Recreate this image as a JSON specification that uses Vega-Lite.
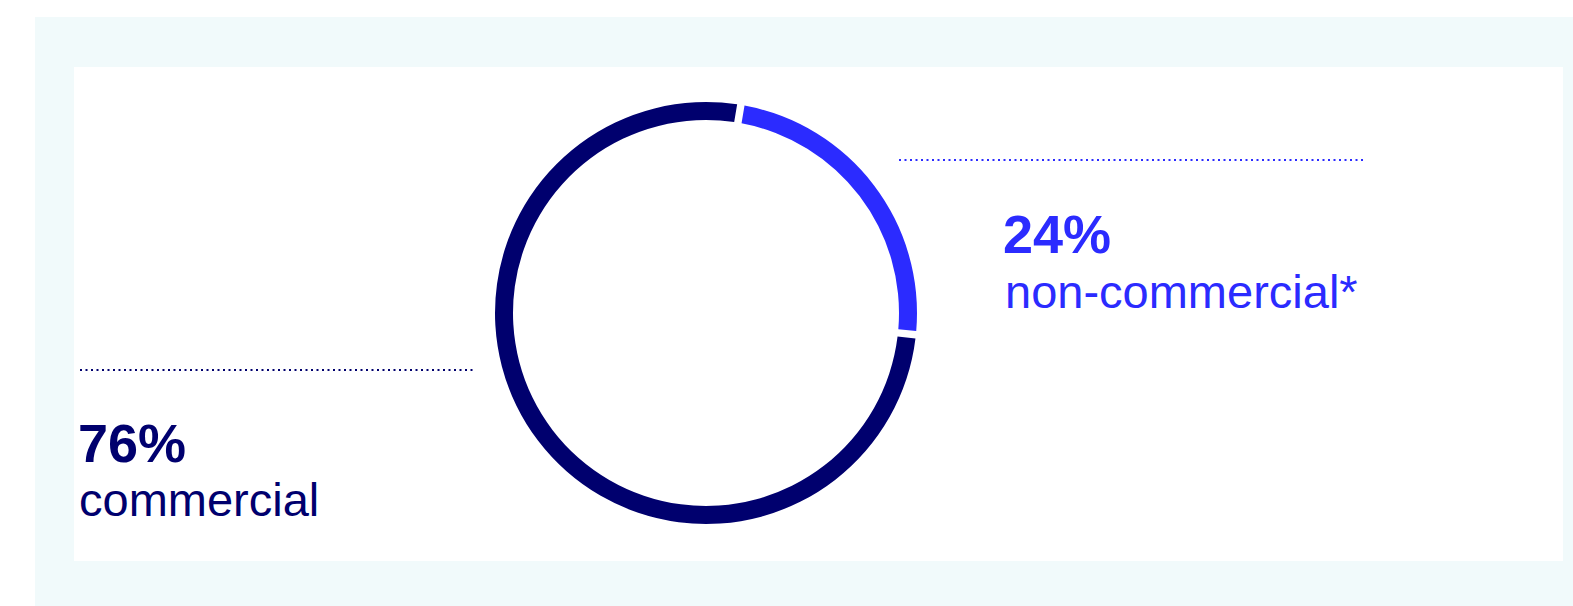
{
  "$schema": "https://vega.github.io/schema/vega-lite/v6.json",
  "width": 1538,
  "height": 589,
  "autosize": "none",
  "padding": {"left": 35, "top": 17, "right": 0, "bottom": 0},
  "background": "#ffffff",
  "config": {"view": {"fill": "#f1fafb", "stroke": null}},
  "datasets": {
    "shares": [
      {"category": "commercial", "share": 0.76},
      {"category": "non-commercial*", "share": 0.24}
    ],
    "panel": [{"name": "panel"}]
  },
  "layer": [
    {
      "data": {"name": "panel"},
      "mark": {"type": "rect", "color": "#ffffff"},
      "encoding": {
        "x": {"datum": 74, "type": "quantitative", "scale": {"domain": [35, 1573], "nice": false, "zero": false}, "axis": null},
        "x2": {"datum": 1563},
        "y": {"datum": 67, "type": "quantitative", "scale": {"domain": [17, 606], "reverse": true, "nice": false, "zero": false}, "axis": null},
        "y2": {"datum": 561}
      }
    },
    {
      "data": {"name": "shares"},
      "mark": {"type": "arc", "radius": 211, "radius2": 193, "padAngle": 0.026},
      "encoding": {
        "x": {"datum": 706, "type": "quantitative"},
        "y": {"datum": 313, "type": "quantitative"},
        "theta": {"field": "share", "type": "quantitative", "stack": true, "scale": {"range": [0.166, 6.449]}},
        "order": {"field": "category", "sort": "descending"},
        "color": {"field": "category", "type": "nominal", "scale": {"domain": ["commercial", "non-commercial*"], "range": ["#00006e", "#2b2bff"]}, "legend": null}
      }
    },
    {
      "data": {"name": "shares"},
      "transform": [{"filter": "datum.category == 'non-commercial*'"}],
      "mark": {"type": "rule", "strokeWidth": 2, "strokeDash": [2, 3.5]},
      "encoding": {
        "x": {"datum": 899, "type": "quantitative"},
        "x2": {"datum": 1363},
        "y": {"datum": 160, "type": "quantitative"},
        "color": {"field": "category", "type": "nominal", "legend": null}
      }
    },
    {
      "data": {"name": "shares"},
      "transform": [{"filter": "datum.category == 'commercial'"}],
      "mark": {"type": "rule", "strokeWidth": 2, "strokeDash": [2, 3.5]},
      "encoding": {
        "x": {"datum": 80, "type": "quantitative"},
        "x2": {"datum": 476},
        "y": {"datum": 370, "type": "quantitative"},
        "color": {"field": "category", "type": "nominal", "legend": null}
      }
    },
    {
      "data": {"name": "shares"},
      "transform": [{"filter": "datum.category == 'non-commercial*'"}],
      "layer": [
        {
          "mark": {"type": "text", "align": "left", "baseline": "alphabetic", "font": "Liberation Sans", "fontWeight": "bold", "fontSize": 54},
          "encoding": {
            "x": {"datum": 1003, "type": "quantitative"},
            "y": {"datum": 253, "type": "quantitative"},
            "text": {"field": "share", "type": "quantitative", "format": ".0%"},
            "color": {"field": "category", "type": "nominal", "legend": null}
          }
        },
        {
          "mark": {"type": "text", "align": "left", "baseline": "alphabetic", "font": "Liberation Sans", "fontSize": 47},
          "encoding": {
            "x": {"datum": 1005, "type": "quantitative"},
            "y": {"datum": 308, "type": "quantitative"},
            "text": {"field": "category", "type": "nominal"},
            "color": {"field": "category", "type": "nominal", "legend": null}
          }
        }
      ]
    },
    {
      "data": {"name": "shares"},
      "transform": [{"filter": "datum.category == 'commercial'"}],
      "layer": [
        {
          "mark": {"type": "text", "align": "left", "baseline": "alphabetic", "font": "Liberation Sans", "fontWeight": "bold", "fontSize": 54},
          "encoding": {
            "x": {"datum": 78, "type": "quantitative"},
            "y": {"datum": 462, "type": "quantitative"},
            "text": {"field": "share", "type": "quantitative", "format": ".0%"},
            "color": {"field": "category", "type": "nominal", "legend": null}
          }
        },
        {
          "mark": {"type": "text", "align": "left", "baseline": "alphabetic", "font": "Liberation Sans", "fontSize": 47},
          "encoding": {
            "x": {"datum": 79, "type": "quantitative"},
            "y": {"datum": 516, "type": "quantitative"},
            "text": {"field": "category", "type": "nominal"},
            "color": {"field": "category", "type": "nominal", "legend": null}
          }
        }
      ]
    }
  ]
}
